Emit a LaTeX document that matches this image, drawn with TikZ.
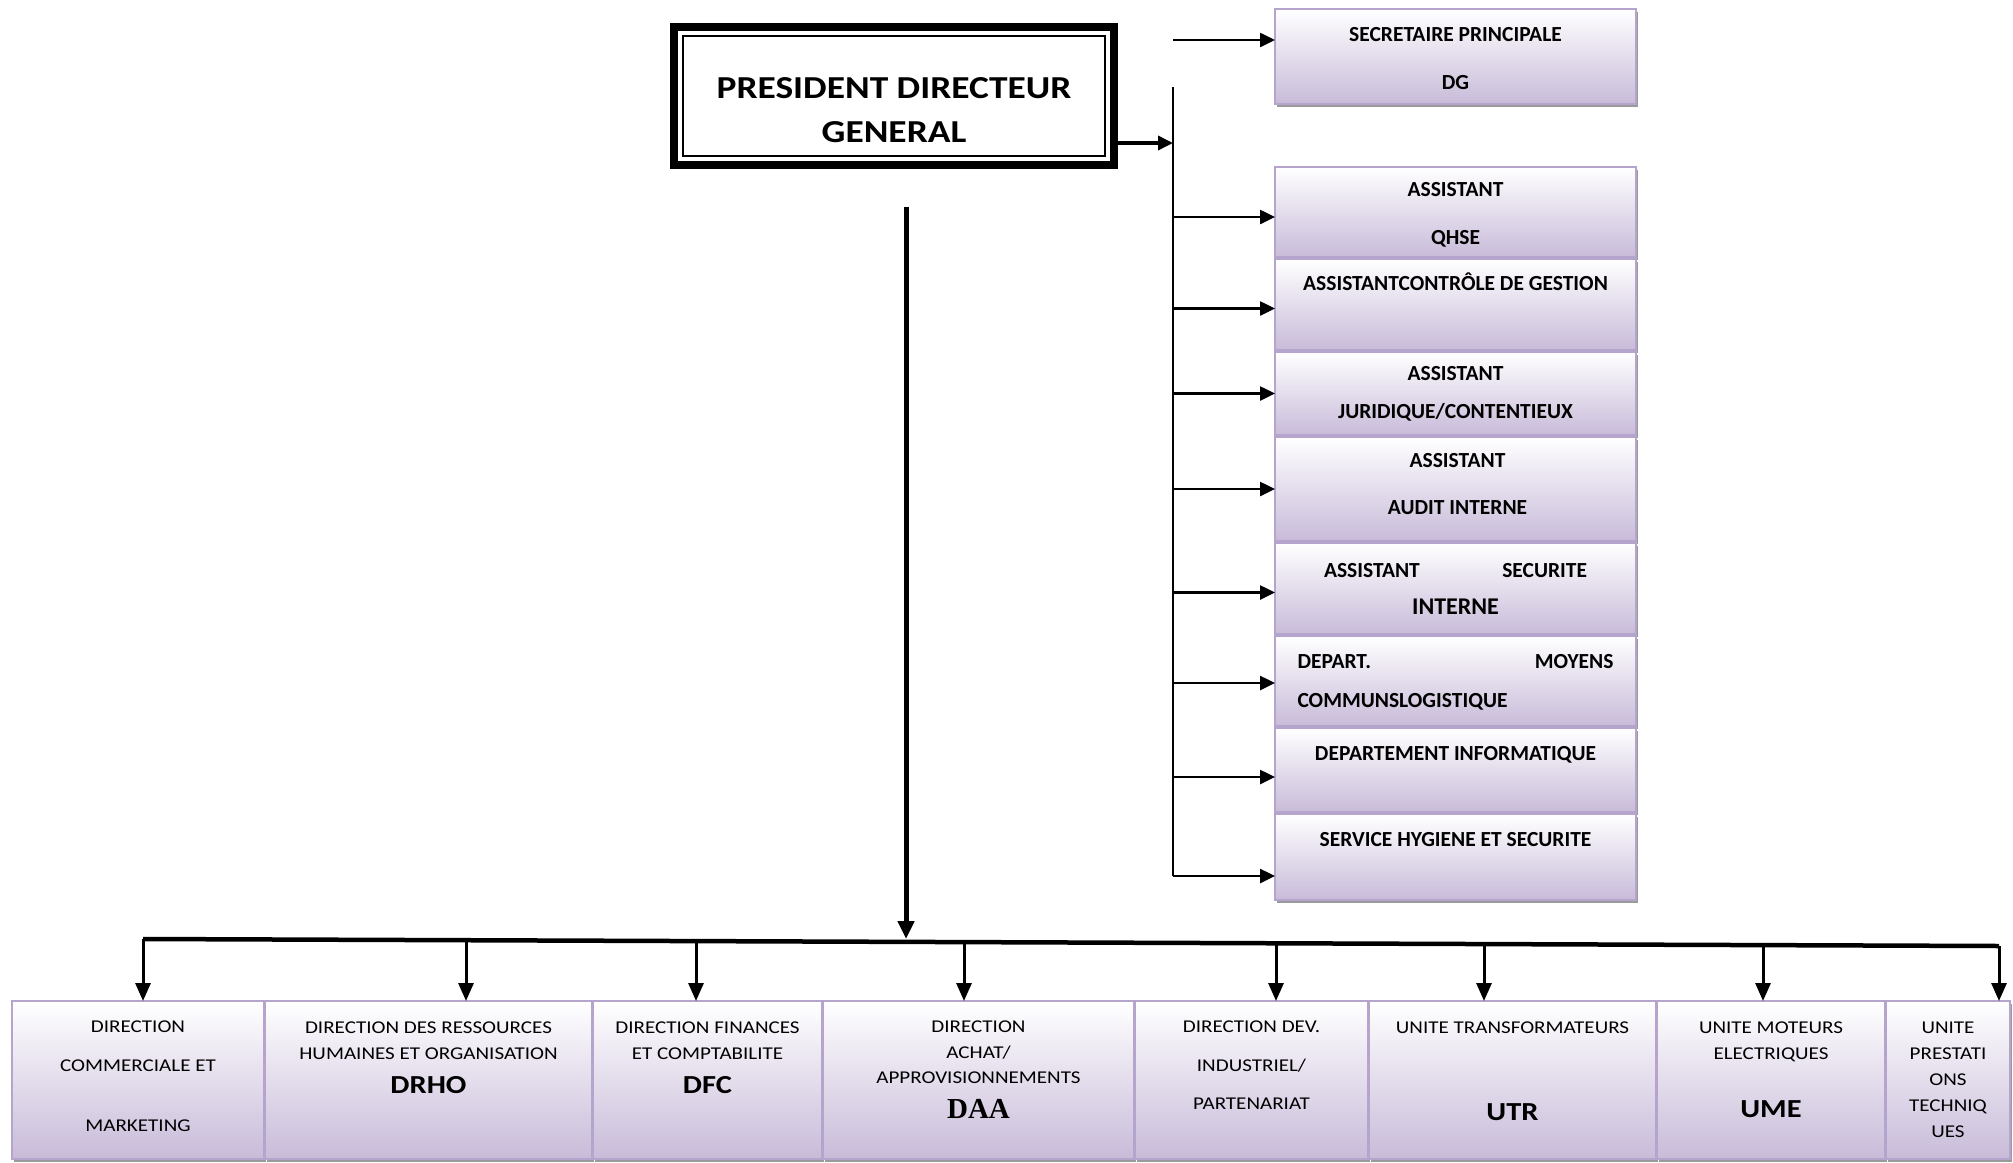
\documentclass[tikz,border=0pt]{standalone}
\usepackage{fontspec}
\setmainfont{Carlito}
\newfontfamily\widefont{Carlito}[FakeStretch=1.17]
\newfontfamily\serifbold{Liberation Serif}
\usetikzlibrary{arrows.meta,shadows,positioning}

\definecolor{lavbottom}{HTML}{C8BBD9}
\definecolor{lavborder}{HTML}{B5A4CC}
\definecolor{boxshadow}{HTML}{9A9A9A}

\begin{document}
\begin{tikzpicture}[x=1pt, y=-1pt]
        % Define styles for nodes and arrows
        \tikzstyle{pdgbox} = [rectangle, draw=black, line width=8pt, minimum width=440pt, minimum height=138pt, inner sep=0pt, outer sep=0pt]
        \tikzstyle{unitbox} = [rectangle, draw=lavborder, line width=2pt, top color=white, bottom color=lavbottom, minimum width=361pt, inner sep=0pt, outer sep=0pt, drop shadow={shadow xshift=2pt, shadow yshift=-3pt, fill=boxshadow, opacity=1}]
        \tikzstyle{dirbox} = [unitbox, minimum height=158pt]
        \tikzstyle{rtext} = [align=center, inner sep=0pt, font=\fontsize{21.5}{25}\selectfont\bfseries]
        \tikzstyle{btext} = [align=center, inner sep=0pt, font=\widefont\fontsize{18}{21}\selectfont]
        \tikzstyle{arrow} = [line width=2.5pt, -{Triangle[length=15pt, width=14pt]}]
        \tikzstyle{droparrow} = [line width=3pt, -{Triangle[length=18pt, width=15pt]}]
        \tikzstyle{bigarrow} = [line width=5pt, -{Triangle[length=18pt, width=16pt]}]
        \newcommand{\acrotext}[1]{{\widefont\bfseries\fontsize{26}{30}\selectfont #1}}

        \path [use as bounding box, fill=white] (0,0) rectangle (2013,1162);

        % President
        \node (pdg) [pdgbox] at (894,96) {};
        \draw [line width=1.8pt] ([shift={(9,9)}]pdg.north west) rectangle ([shift={(-9,-9)}]pdg.south east);
        \node (pdg-t) [align=center, inner sep=0pt, font=\widefont\bfseries\fontsize{32}{38}\selectfont] at (894,110) {PRESIDENT DIRECTEUR\\[6pt]GENERAL};

        % Staff column
        \node (sec) [unitbox, minimum height=95pt] at (1455.5,56.5) {};
        \node (qhse) [unitbox, minimum height=90pt] at (1455.5,212) {};
        \node (ctrl) [unitbox, minimum height=91pt, below=2pt of qhse] {};
        \node (jur) [unitbox, minimum height=83pt, below=2pt of ctrl] {};
        \node (audit) [unitbox, minimum height=104pt, below=2pt of jur] {};
        \node (secu) [unitbox, minimum height=91pt, below=2pt of audit] {};
        \node (moy) [unitbox, minimum height=90pt, below=2pt of secu] {};
        \node (info) [unitbox, minimum height=84pt, below=2pt of moy] {};
        \node (hyg) [unitbox, minimum height=86pt, below=2pt of info] {};

        \node (sec-t) [rtext, yshift=-2.5pt] at (sec) {SECRETAIRE PRINCIPALE\\[23pt]DG};
        \node (qhse-t) [rtext, yshift=-3pt] at (qhse) {ASSISTANT\\[23pt]QHSE};
        \node (ctrl-t) [rtext, yshift=22.5pt] at (ctrl) {ASSISTANTCONTRÔLE DE GESTION};
        \node (jur-t) [rtext] at (jur) {ASSISTANT\\[13pt]JURIDIQUE/CONTENTIEUX};
        \node (audit-t) [rtext, xshift=2pt, yshift=4.5pt] at (audit) {ASSISTANT\\[22pt]AUDIT INTERNE};
        \node (secu-t) [rtext] at (secu) {\makebox[263pt]{ASSISTANT\hfill SECURITE}\\[12pt]{\fontsize{24}{29}\selectfont INTERNE}};
        \node (moy-t) [rtext, align=left, yshift=-1.5pt] at (moy) {\makebox[316pt]{DEPART.\hfill MOYENS}\\[14pt]COMMUNSLOGISTIQUE};
        \node (info-t) [rtext, yshift=15.5pt] at (info) {DEPARTEMENT INFORMATIQUE};
        \node (hyg-t) [rtext, yshift=17pt] at (hyg) {SERVICE HYGIENE ET SECURITE};

        % Directions
        \node (b1) [dirbox, minimum width=252pt] at (138,1080) {};
        \node (b2) [dirbox, minimum width=327pt, right=1pt of b1] {};
        \node (b3) [dirbox, minimum width=229pt, right=1pt of b2] {};
        \node (b4) [dirbox, minimum width=311pt, right=1pt of b3] {};
        \node (b5) [dirbox, minimum width=233pt, right=1pt of b4] {};
        \node (b6) [dirbox, minimum width=287pt, right=1pt of b5] {};
        \node (b7) [dirbox, minimum width=228pt, right=1pt of b6] {};
        \node (b8) [dirbox, minimum width=124pt, right=1pt of b7] {};

        \node (b1-t) [btext, yshift=3.5pt] at (b1) {DIRECTION\\[18pt]COMMERCIALE ET\\[39pt]MARKETING};
        \node (b2-t) [btext, yshift=22.5pt] at (b2) {DIRECTION DES RESSOURCES\\[5pt]HUMAINES ET ORGANISATION\\[13.5pt]\acrotext{DRHO}};
        \node (b3-t) [btext, yshift=22.5pt] at (b3) {DIRECTION FINANCES\\[5pt]ET COMPTABILITE\\[13.5pt]\acrotext{DFC}};
        \node (b4-t) [btext, yshift=10pt] at (b4) {DIRECTION\\[5pt]ACHAT/\\[4pt]APPROVISIONNEMENTS\\[14pt]{\serifbold\bfseries\fontsize{29}{33}\selectfont DAA}};
        \node (b5-t) [btext, yshift=14.5pt] at (b5) {DIRECTION DEV.\\[18pt]INDUSTRIEL/\\[17pt]PARTENARIAT};
        \node (b6-t) [btext, yshift=9pt] at (b6) {UNITE TRANSFORMATEURS\\[66pt]\acrotext{UTR}};
        \node (b7-t) [btext, yshift=10.5pt] at (b7) {UNITE MOTEURS\\[5pt]ELECTRIQUES\\[37.5pt]\acrotext{UME}};
        \node (b8-t) [btext, yshift=0.5pt] at (b8) {UNITE\\[5pt]PRESTATI\\[5pt]ONS\\[5pt]TECHNIQ\\[5pt]UES};

        % Arrows to the staff column
        \coordinate (spinetop) at (1173,87);
        \coordinate (secfeed) at (1173,40);
        \path ([yshift=-47pt]pdg.east) coordinate (pdgout);
        \draw [arrow, line width=3.5pt] (pdgout) -- (pdgout -| spinetop);
        \draw [arrow] (secfeed) -- (secfeed -| sec.west);
        \foreach \b/\dy in {qhse/-5, ctrl/-4, jur/0, audit/0, secu/-4, moy/-2, info/-7, hyg/-19} {
            \path ([yshift=\dy pt]\b.west) coordinate (\b-in);
            \draw [arrow] (spinetop |- \b-in) -- (\b-in);
        }
        \draw [line width=2pt] (spinetop) -- (spinetop |- hyg-in);

        % Trunk, bus and drops to the directions
        \coordinate (trunktop) at (906,207);
        \coordinate (busleft) at (143,939);
        \coordinate (busright) at (1999,946);
        \draw [bigarrow] (trunktop) -- (trunktop |- busleft);
        \draw [line width=4.5pt] (busleft) -- (busright);
        \foreach \b/\dx/\len in {b1/5/62, b2/37.5/61, b3/-11.5/60, b4/-14.5/59, b5/24.5/58, b6/-28.5/57, b7/-8/56, b8/51/55}
            \draw [droparrow] ([shift={(\dx,-\len)}]\b.north) -- ([xshift=\dx pt]\b.north);
\end{tikzpicture}
\end{document}
